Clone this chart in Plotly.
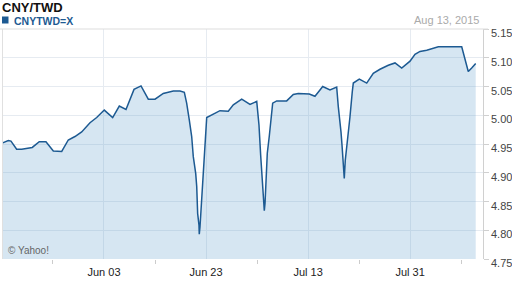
import plotly.graph_objects as go

# trading days relative to Jun 03, 2015
trading_day = [-13.90, -13.13, -12.76, -11.98, -11.29, -10.60, -9.84, -8.88, -7.96, -6.95,
               -5.80, -4.90, -3.98, -3.06, -1.92, -1.00, 0.04, 1.19, 2.10, 3.02,
               3.57, 4.12, 5.08, 6.08, 7.00, 8.13, 9.51, 10.43, 11.02, 11.34,
               11.70, 12.03, 12.25, 12.58, 12.72, 12.85, 13.03, 13.07, 13.17, 13.31,
               13.48, 13.62, 13.76, 13.85, 14.09, 15.00, 15.91, 17.05, 17.74, 18.89,
               20.03, 20.95, 21.08, 21.26, 21.49, 21.67, 21.81, 21.91, 21.99, 22.09,
               22.22, 22.40, 22.67, 22.87, 23.14, 23.69, 25.06, 25.97, 26.65, 28.16,
               28.94, 29.63, 30.00, 31.00, 31.92, 32.14, 32.37, 32.51, 32.65, 32.78,
               32.88, 32.96, 33.10, 33.29, 33.47, 33.74, 34.06, 34.20, 35.02, 36.04,
               36.94, 37.86, 39.00, 39.92, 40.84, 41.98, 42.66, 43.35, 44.27, 45.17,
               45.86, 49.07, 49.29, 49.52, 49.75, 49.97, 50.44, 50.99]
rate = [4.952, 4.956, 4.955, 4.941, 4.941, 4.942, 4.944, 4.954, 4.954, 4.938,
        4.937, 4.957, 4.963, 4.971, 4.987, 4.996, 5.009, 4.996, 5.016, 5.010,
        5.027, 5.045, 5.051, 5.028, 5.028, 5.038, 5.042, 5.042, 5.040, 5.021,
        4.992, 4.963, 4.928, 4.899, 4.876, 4.829, 4.809, 4.793, 4.806, 4.835,
        4.864, 4.896, 4.925, 4.954, 4.996, 5.002, 5.008, 5.007, 5.018, 5.028,
        5.019, 5.024, 5.009, 4.983, 4.931, 4.902, 4.876, 4.850, 4.834, 4.847,
        4.893, 4.934, 4.963, 4.986, 5.021, 5.025, 5.025, 5.036, 5.038, 5.037,
        5.033, 5.044, 5.050, 5.044, 5.049, 5.015, 4.992, 4.971, 4.948, 4.925,
        4.902, 4.890, 4.922, 4.943, 4.963, 4.997, 5.041, 5.056, 5.063, 5.056,
        5.073, 5.080, 5.087, 5.091, 5.082, 5.094, 5.106, 5.111, 5.113, 5.116,
        5.119, 5.119, 5.108, 5.096, 5.086, 5.076, 5.082, 5.090]

tick_days = [0, 14, 28, 42]
tick_labels = ["Jun 03", "Jun 23", "Jul 13", "Jul 31"]
minor_days = [-7, 7, 21, 35, 49]
y_ticks = [4.75, 4.80, 4.85, 4.90, 4.95, 5.00, 5.05, 5.10, 5.15]

W, H = 512, 288
L, R, T, B = 2, 29, 29, 29
PW, PH = W - L - R, H - T - B


def px(x):
    return (x - L) / PW


def py(y):
    return (H - B - y) / PH


FONT = "Arial, 'Liberation Sans', sans-serif"
LINE = "#1d5a92"
GRID = "#e6ebf1"

fig = go.Figure()
fig.add_trace(go.Scatter(
    x=trading_day, y=rate, mode="lines",
    line=dict(color=LINE, width=1.5),
    fill="tozeroy", fillcolor="rgba(91,155,203,0.25)",
    hoverinfo="skip", showlegend=False,
))

annotations = [
    dict(text="<b>CNY/TWD</b>", xref="paper", yref="paper", x=px(0), y=py(7.5),
         xanchor="left", yanchor="middle", showarrow=False,
         font=dict(size=13, color="#111", family=FONT)),
    dict(text="<b>CNYTWD=X</b>", xref="paper", yref="paper", x=px(11.5), y=py(20.5),
         xanchor="left", yanchor="middle", showarrow=False,
         font=dict(size=10.5, color=LINE, family=FONT)),
    dict(text="Aug 13, 2015", xref="paper", yref="paper", x=px(481), y=py(20),
         xanchor="right", yanchor="middle", showarrow=False,
         font=dict(size=11, color="#aaaaaa", family=FONT)),
    dict(text="© Yahoo!", xref="paper", yref="paper", x=px(6), y=py(250.5),
         xanchor="left", yanchor="middle", showarrow=False,
         font=dict(size=10, color="#666666", family=FONT)),
]
for v in y_ticks:
    annotations.append(dict(
        text=f"{v:.2f}", xref="paper", yref="y", x=px(489), y=v,
        xanchor="left", yanchor="middle", yshift=-4, showarrow=False,
        font=dict(size=11, color="#444", family=FONT)))

fig.update_layout(
    width=W, height=H,
    margin=dict(l=L, r=R, t=T, b=B),
    paper_bgcolor="white", plot_bgcolor="white",
    font=dict(family=FONT, size=11, color="#333"),
    xaxis=dict(
        range=[-13.99, 51.99], tickmode="array", tickvals=tick_days, ticktext=tick_labels,
        showgrid=True, gridcolor=GRID, gridwidth=1, zeroline=False,
        ticks="outside", ticklen=3, tickcolor="rgba(0,0,0,0)",
        tickfont=dict(size=11, color="#222"),
        minor=dict(tickmode="array", tickvals=minor_days, ticks="outside", ticklen=4,
                   tickcolor="#cccccc", showgrid=False),
        showline=False, fixedrange=True,
    ),
    yaxis=dict(
        side="right", range=[4.75, 5.15], tickmode="array", tickvals=y_ticks,
        showticklabels=False, showgrid=True, gridcolor=GRID, gridwidth=1, zeroline=False,
        showline=True, linecolor="#d0d0d0", linewidth=1,
        ticks="outside", ticklen=5, tickcolor="#d0d0d0", fixedrange=True,
    ),
    shapes=[
        dict(type="line", xref="paper", yref="paper", x0=px(0), x1=px(488), y0=1, y1=1,
             line=dict(color="#dddddd", width=1)),
        dict(type="line", xref="paper", yref="paper", x0=px(2.5), x1=px(2.5), y0=0, y1=1,
             line=dict(color="#e0e0e0", width=1)),
        dict(type="rect", xref="paper", yref="paper", x0=px(2), x1=px(8.5),
             y0=py(23.5), y1=py(16.5), fillcolor=LINE, line=dict(width=0)),
    ],
    annotations=annotations,
)

fig.write_html("out.html")
